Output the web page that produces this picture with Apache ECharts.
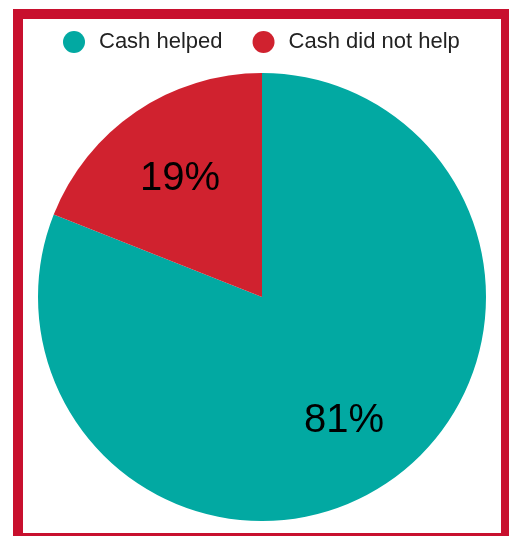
<!DOCTYPE html>
<html>
<head>
<meta charset="utf-8">
<script src="https://cdn.jsdelivr.net/npm/echarts@6/dist/echarts.min.js"></script>
<style>
  html, body { margin: 0; padding: 0; background: #fff; }
  #chart { width: 509px; height: 536px; }
</style>
</head>
<body>
<div id="chart"></div>
<script>
// Survey answers: did the cash transfer help?
const categories = ['Cash helped', 'Cash did not help'];
const shares = [81, 19];
const colors = ['#02A9A2', '#D0222F'];

const pieData = categories.map((name, i) => ({
  name: name,
  value: shares[i],
  itemStyle: { color: colors[i] }
}));

const chart = echarts.init(document.getElementById('chart'), null, { renderer: 'canvas' });

chart.setOption({
  animation: false,
  textStyle: { fontFamily: 'Liberation Sans, Arial, sans-serif' },
  graphic: [{
    type: 'rect',
    shape: { x: 18, y: 14, width: 488, height: 524 },
    style: { fill: 'none', stroke: '#C8102E', lineWidth: 10 },
    z: 10
  }],
  legend: {
    top: 26,
    left: 58,
    icon: 'circle',
    itemWidth: 22,
    itemHeight: 22,
    itemGap: 30,
    data: categories,
    textStyle: {
      fontSize: 22,
      color: '#222',
      padding: [0, 0, 0, 9],
      fontFamily: 'Liberation Sans, Arial, sans-serif'
    }
  },
  series: [
    {
      type: 'pie',
      center: [262, 297],
      radius: [0, 224],
      startAngle: 90,
      clockwise: true,
      label: { show: false },
      labelLine: { show: false },
      emphasis: { disabled: true },
      data: pieData
    },
    {
      // transparent copy whose mid-radius carries the percentage labels
      type: 'pie',
      center: [262, 297],
      radius: [0, 286],
      startAngle: 90,
      clockwise: true,
      silent: true,
      legendHoverLink: false,
      z: 3,
      itemStyle: { color: 'rgba(0,0,0,0)', borderWidth: 0 },
      label: {
        show: true,
        position: 'inside',
        formatter: '{c}%',
        fontSize: 40,
        color: '#000',
        offset: [0, 3],
        fontFamily: 'Liberation Sans, Arial, sans-serif'
      },
      labelLine: { show: false },
      emphasis: { disabled: true },
      data: categories.map((name, i) => ({ name: name + ' ', value: shares[i] }))
    }
  ]
});
</script>
</body>
</html>
